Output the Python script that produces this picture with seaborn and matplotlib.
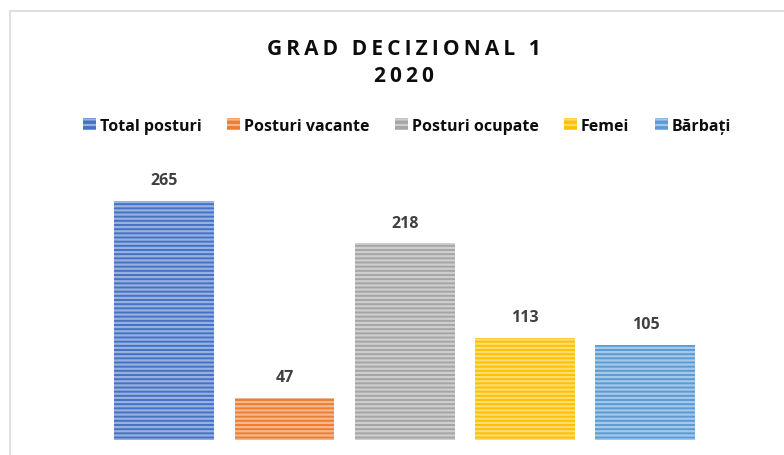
import numpy as np
import pandas as pd
import matplotlib
matplotlib.use('Agg')
import matplotlib.pyplot as plt
import matplotlib.colors as mcolors
from matplotlib.patches import Rectangle
import seaborn as sns

# data
categories = ['Total posturi', 'Posturi vacante', 'Posturi ocupate', 'Femei', 'Bărbați']
values = [265, 47, 218, 113, 105]
colors = ['#4472C4', '#ED7D31', '#A5A5A5', '#FFC000', '#5B9BD5']
title = 'GRAD DECIZIONAL 1\n2020'

sns.set_theme(style='white')
plt.rcParams['font.family'] = ['Open Sans', 'DejaVu Sans']
plt.rcParams['hatch.linewidth'] = 1.6

df = pd.DataFrame({'cat': categories, 'val': values})

fig = plt.figure(figsize=(7.84, 4.56), dpi=100)
ax = fig.add_axes([104 / 784, 15 / 456, 601.5 / 784, 266 / 456])

sns.barplot(data=df, x='cat', y='val', hue='cat', palette=colors,
            width=0.83, legend=False, ax=ax, saturation=1)

# striped fill like the original
def lighter(c, f=0.45):
    r, g, b = mcolors.to_rgb(c)
    return (r + (1 - r) * f, g + (1 - g) * f, b + (1 - b) * f)

for bar, c in zip(ax.patches, colors):
    bar.set_edgecolor(lighter(c))
    bar.set_linewidth(0)
    bar.set_hatch('----')

ax.set_xlim(-0.5, len(categories) - 0.5)
ax.set_ylim(0, 295)
ax.set_axis_off()

# value labels
for i, v in enumerate(values):
    ax.annotate(str(v), (i, v), xytext=(0, 15), textcoords='offset points',
                ha='center', va='center', fontsize=11.5, fontweight='bold',
                color='#404040')

# title with letter spacing
spaced = '\n'.join('\u2009'.join(line) for line in title.split('\n'))
fig.text(0.515, 0.862, spaced, ha='center', va='center', fontsize=15,
         fontweight='bold', color='#0d0d0d', linespacing=1.4)

# legend
handles = []
for c in colors:
    h = Rectangle((0, 0), 1, 1, facecolor=c, edgecolor=lighter(c), linewidth=0, hatch='---')
    handles.append(h)
leg = fig.legend(handles, categories, ncol=5, loc='center', bbox_to_anchor=(0.519, 0.722),
                 frameon=False, handlelength=0.8, handleheight=0.8, handletextpad=0.25,
                 columnspacing=1.6, prop={'weight': 'bold', 'size': 11.5})
for t in leg.get_texts():
    t.set_color('#0d0d0d')

# chart border
fig.patches.append(Rectangle((10 / 784, -0.1), 1.2, (456 - 12) / 456 + 0.1,
                             transform=fig.transFigure, fill=False,
                             edgecolor='#D9D9D9', linewidth=1.2))

fig.savefig('out.png', dpi=100)
